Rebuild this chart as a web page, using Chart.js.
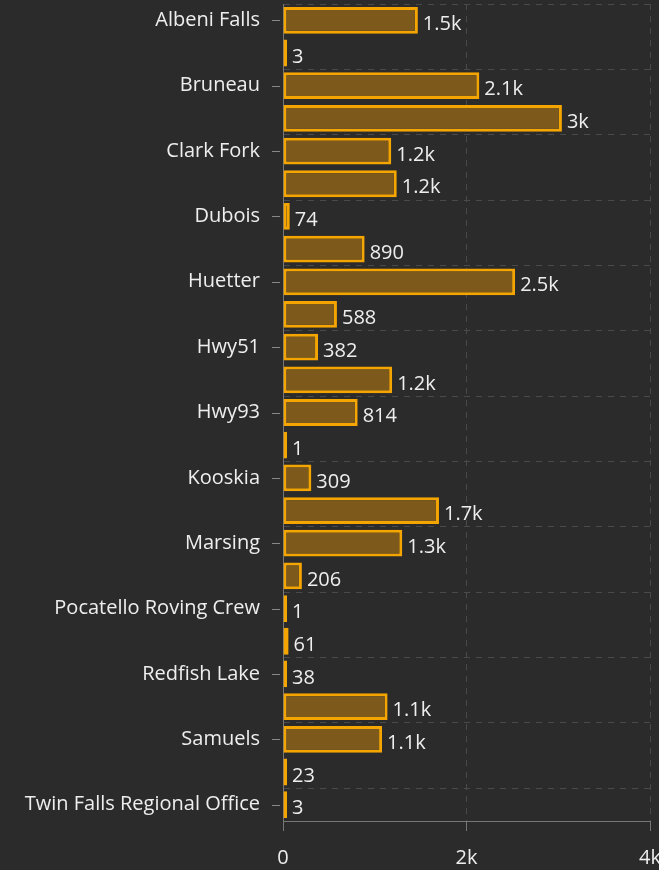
<!DOCTYPE html>
<html>
<head>
<meta charset="utf-8">
<script src="https://cdn.jsdelivr.net/npm/chart.js@4/dist/chart.umd.min.js"></script>
<style>
  html, body { margin: 0; padding: 0; background: #2b2b2b; }
  #wrap { width: 659px; height: 870px; }
</style>
</head>
<body>
<div id="wrap"><canvas id="grafico" width="659" height="870"></canvas></div>
<script>
// categorias (solo las pares se ven como etiqueta)
const sitios = [
  'Albeni Falls', 'Bonners Ferry', 'Bruneau', 'Cascade', 'Clark Fork',
  'Coeur d\'Alene', 'Dubois', 'Fernan', 'Huetter', 'Hwy21',
  'Hwy51', 'Hwy55', 'Hwy93', 'Idaho Falls', 'Kooskia',
  'Lewiston', 'Marsing', 'McCall', 'Pocatello Roving Crew', 'Priest River',
  'Redfish Lake', 'Rexburg', 'Samuels', 'Sandpoint', 'Twin Falls Regional Office'
];
const cantidades = [
  1470, 3, 2140, 3040, 1180,
  1240, 74, 890, 2530, 588,
  382, 1190, 814, 1, 309,
  1700, 1300, 206, 1, 61,
  38, 1140, 1080, 23, 3
];
const ticksX = [0, 2000, 4000];

const fuente = { family: "'Open Sans', 'Noto Sans', sans-serif", size: 20 };

function formatear(v) {
  if (v >= 1000) {
    let s = (v / 1000).toFixed(1);
    if (s.endsWith('.0')) s = s.slice(0, -2);
    return s + 'k';
  }
  return String(v);
}

// etiquetas de valor al final de cada barra
const etiquetasValor = {
  id: 'etiquetasValor',
  afterDatasetsDraw(chart) {
    const ctx = chart.ctx;
    const meta = chart.getDatasetMeta(0);
    ctx.save();
    ctx.font = fuente.size + 'px ' + fuente.family;
    ctx.fillStyle = '#eeeeee';
    ctx.textBaseline = 'middle';
    ctx.textAlign = 'left';
    meta.data.forEach((barra, i) => {
      ctx.fillText(formatear(cantidades[i]), barra.x + 5, barra.y + 4);
    });
    ctx.restore();
  }
};

// marcas cortas del eje y en el centro de cada etiqueta visible
const marcasY = {
  id: 'marcasY',
  afterDraw(chart) {
    const y = chart.scales.y;
    const ctx = chart.ctx;
    ctx.save();
    ctx.strokeStyle = '#888888';
    ctx.lineWidth = 1;
    sitios.forEach((s, i) => {
      if (i % 2 !== 0) return;
      const py = Math.round(y.getPixelForValue(i)) + 0.5;
      ctx.beginPath();
      ctx.moveTo(y.right - 11, py);
      ctx.lineTo(y.right - 3, py);
      ctx.stroke();
    });
    ctx.restore();
  }
};

new Chart(document.getElementById('grafico'), {
  type: 'bar',
  data: {
    labels: sitios,
    datasets: [{
      data: cantidades,
      backgroundColor: 'rgb(125, 90, 28)',
      borderColor: 'rgb(245, 165, 0)',
      borderWidth: 3,
      borderSkipped: false,
      minBarLength: 4,
      barPercentage: 0.82,
      categoryPercentage: 1
    }]
  },
  options: {
    indexAxis: 'y',
    responsive: false,
    animation: false,
    layout: { padding: { top: 4, right: 9, bottom: 0, left: 0 } },
    plugins: {
      legend: { display: false },
      tooltip: { enabled: false }
    },
    scales: {
      x: {
        min: 0,
        max: 4000,
        afterBuildTicks(scale) {
          scale.ticks = ticksX.map(v => ({ value: v }));
        },
        afterFit(scale) {
          scale.height = 49;
          scale.paddingLeft = 0;
          scale.paddingRight = 0;
        },
        ticks: {
          color: '#eeeeee',
          font: fuente,
          padding: 15,
          maxRotation: 0,
          callback: v => formatear(v)
        },
        grid: {
          color: '#4a4a4a',
          tickColor: '#777777',
          tickLength: 10
        },
        border: { display: true, color: '#777777', dash: [6, 6] }
      },
      y: {
        afterFit(scale) {
          scale.width = 283;
          scale.paddingTop = 0;
          scale.paddingBottom = 0;
        },
        ticks: {
          autoSkip: false,
          color: '#eeeeee',
          font: fuente,
          padding: 23,
          callback: function (v, i) {
            return i % 2 === 0 ? sitios[i] : '';
          }
        },
        grid: {
          offset: true,
          color: ctx => (ctx.index % 2 === 0 ? '#4a4a4a' : 'rgba(0,0,0,0)'),
          drawTicks: false
        },
        border: { display: true, color: '#777777', dash: [6, 6] }
      }
    }
  },
  plugins: [etiquetasValor, marcasY]
});
</script>
</body>
</html>
